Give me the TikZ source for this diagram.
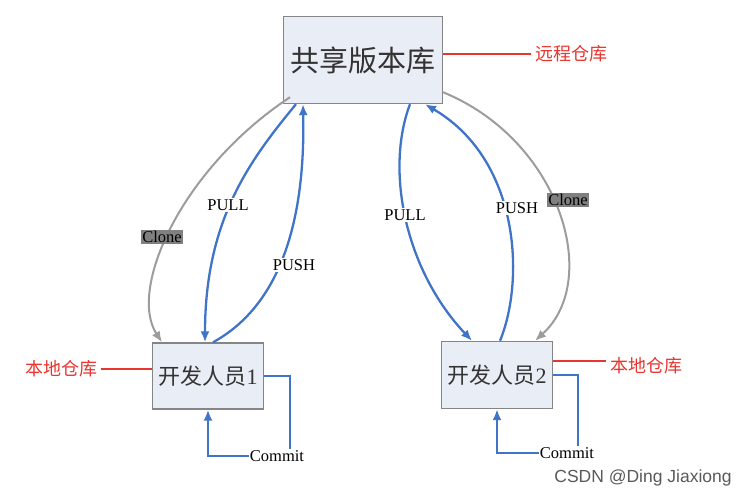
\documentclass[tikz,border=0pt]{standalone}
\usepackage{fontspec}
\setmainfont{Liberation Serif}
\newfontfamily\cjk{Noto Sans CJK SC}
\newfontfamily\wmfont{Liberation Sans}
\usetikzlibrary{arrows.meta}
\definecolor{boxfill}{HTML}{E9EDF5}
\definecolor{boxline}{HTML}{858585}
\definecolor{gitblue}{HTML}{3F74C8}
\definecolor{clonegray}{HTML}{9C9C9C}
\definecolor{tagred}{HTML}{E8352F}
\begin{document}
\begin{tikzpicture}[x=1pt,y=-1pt,
	repobox/.style={draw=boxline,fill=boxfill,line width=1.4pt,inner sep=0pt,text=black!80},
	tag/.style={text=tagred,font=\cjk\fontsize{18pt}{20pt}\selectfont,inner sep=4pt},
	tagline/.style={draw=tagred,line width=1.1pt},
	lbl/.style={fill=white,inner sep=1.5pt,font=\fontsize{16.5pt}{18pt}\selectfont},
	clonelbl/.style={fill=black!50,inner sep=1pt,font=\fontsize{16.5pt}{18pt}\selectfont},
	bluearr/.style={draw=gitblue,line width=2.3pt,-{Latex[length=11pt,width=9pt]}},
	grayarr/.style={draw=clonegray,line width=2pt,-{Latex[length=11pt,width=9pt]}},
	commitline/.style={draw=gitblue,line width=2.3pt}]
\useasboundingbox (0,0) rectangle (748,497);
\node[repobox,minimum width=159pt,minimum height=87pt,font=\cjk\fontsize{29pt}{31pt}\selectfont] (repo) at (363,60) {共享版本库};
\node[repobox,minimum width=111pt,minimum height=66pt,font=\fontsize{22pt}{24pt}\selectfont] (dev1) at (208,376) {{\cjk 开发人员}1};
\node[repobox,minimum width=111pt,minimum height=67pt,font=\fontsize{22pt}{24pt}\selectfont] (dev2) at (497,375) {{\cjk 开发人员}2};

\node[tag] (remote) at (571,54) {远程仓库};
\node[tag] (local1) at (61,369) {本地仓库};
\node[tag] (local2) at (646,366) {本地仓库};
\draw[tagline] (remote.west) -- (remote.west -| repo.east);
\draw[tagline] (local1.east) -- (local1.east -| dev1.west);
\draw[tagline] ([yshift=5pt]local2.west) -- ([yshift=5pt]local2.west -| dev2.east);

\draw[grayarr] ([xshift=-73pt,yshift=7pt]repo.south) .. controls (180,170) and (128,290) .. ([xshift=-46pt]dev1.north);
\draw[bluearr] ([xshift=-67pt]repo.south) .. controls (250,160) and (205,220) .. ([xshift=-3pt]dev1.north);
\draw[bluearr] ([xshift=5pt]dev1.north) .. controls (290,300) and (305,200) .. ([xshift=-60pt]repo.south);
\draw[bluearr] ([xshift=47pt]repo.south) .. controls (385,170) and (405,270) .. ([xshift=-25pt]dev2.north);
\draw[bluearr] ([xshift=3pt]dev2.north) .. controls (525,280) and (520,160) .. ([xshift=62pt]repo.south);
\draw[grayarr] ([xshift=80pt,yshift=12pt]repo.south) .. controls (560,140) and (602,280) .. ([xshift=38pt]dev2.north);

\node[clonelbl] (clone1) at (162,237) {Clone};
\node[lbl] (pull1) at (228,205) {PULL};
\node[lbl] (push1) at (294,265) {PUSH};
\node[lbl] (pull2) at (405,215) {PULL};
\node[lbl] (push2) at (517,208) {PUSH};
\node[clonelbl] (clone2) at (568,200) {Clone};

\node[lbl,inner sep=1pt] (commit1) at (277,456) {Commit};
\node[lbl,inner sep=1pt] (commit2) at (567,453) {Commit};
\draw[commitline] (dev1.east) -| ([xshift=13pt]commit1.north);
\draw[commitline,-{Latex[length=11pt,width=9pt]}] (commit1.west) -| (dev1.south);
\draw[commitline] (dev2.east) -| ([xshift=11pt]commit2.north);
\draw[commitline,-{Latex[length=11pt,width=9pt]}] (commit2.west) -| (dev2.south);

\node[text=black!65,font=\wmfont\fontsize{17.5pt}{19pt}\selectfont] (mark) at (643,478) {CSDN @Ding Jiaxiong};
\end{tikzpicture}
\end{document}
